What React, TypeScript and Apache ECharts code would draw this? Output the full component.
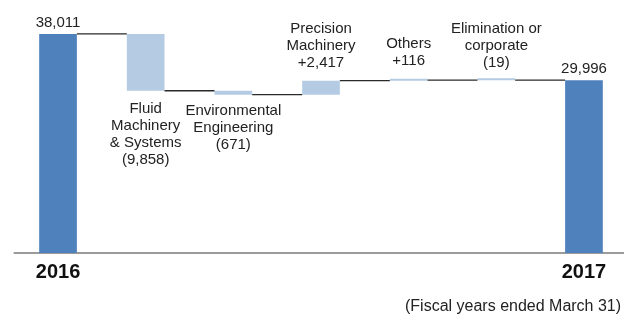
import React, { useEffect, useRef } from "react";
import * as echarts from "echarts";

const categories = [
  "2016",
  "Fluid Machinery & Systems",
  "Environmental Engineering",
  "Precision Machinery",
  "Others",
  "Elimination or corporate",
  "2017",
];
const startValue = 38011;
const endValue = 29996;
const changes = [-9858, -671, 2417, 116, -19];
const labelTexts = [
  "38,011",
  "Fluid\nMachinery\n& Systems\n(9,858)",
  "Environmental\nEngineering\n(671)",
  "Precision\nMachinery\n+2,417",
  "Others\n+116",
  "Elimination or\ncorporate\n(19)",
  "29,996",
];
const yearLabels = ["2016", "2017"];
const footnote = "(Fiscal years ended March 31)";

const DARK = "#4f81bd";
const LIGHT = "#b4cbe3";
const FONT = "'Liberation Sans', Arial, sans-serif";

export default function App() {
  const ref = useRef<HTMLDivElement>(null);
  useEffect(() => {
    if (!ref.current) return;
    const chart = echarts.init(ref.current, null, { renderer: "svg" });

    const bases: number[] = [0];
    const values: number[] = [startValue];
    const levels: number[][] = [[0, startValue]];
    let running = startValue;
    changes.forEach((c, i) => {
      const next = running + c;
      bases.push(Math.min(running, next));
      values.push(Math.abs(c));
      levels.push([i + 1, next]);
      running = next;
    });
    bases.push(0);
    values.push(endValue);

    const labelPos = (i: number) => {
      if (i === 1) return { position: "bottom", distance: 8 };
      if (i === 2) return { position: "bottom", distance: 6 };
      if (i === 3) return { position: "top", distance: 11 };
      if (i === 4) return { position: "top", distance: 11 };
      if (i === 5) return { position: "top", distance: 8 };
      return { position: "top", distance: 4 };
    };

    const visibleData = values.map((v, i) => {
      const isTotal = i === 0 || i === values.length - 1;
      return {
        value: v,
        itemStyle: { color: isTotal ? DARK : LIGHT },
        label: labelPos(i),
      };
    });

    chart.setOption({
      animation: false,
      grid: { left: 14.2, right: 2.2, top: 22.5, bottom: 61 },
      xAxis: {
        type: "category",
        data: categories,
        axisLine: { show: true, lineStyle: { color: "#7a7a7a", width: 1.5 } },
        axisTick: { show: false },
        axisLabel: {
          interval: 0,
          margin: 8,
          formatter: (v: string) => (yearLabels.includes(v) ? v : ""),
          fontFamily: FONT,
          fontWeight: "bold",
          fontSize: 20,
          color: "#111",
        },
      },
      yAxis: {
        type: "value",
        min: 0,
        max: 40000,
        show: false,
        splitLine: { show: false },
      },
      series: [
        {
          type: "bar",
          stack: "wf",
          data: bases,
          barWidth: "43%",
          itemStyle: { color: "transparent" },
          silent: true,
        },
        {
          type: "bar",
          stack: "wf",
          data: visibleData,
          barWidth: "43%",
          barMinHeight: 2,
          label: {
            show: true,
            formatter: (p: any) => labelTexts[p.dataIndex],
            fontFamily: FONT,
            fontSize: 15,
            lineHeight: 17,
            color: "#222",
            align: "center",
          },
        },
        {
          type: "custom",
          data: levels,
          encode: { x: 0, y: 1 },
          z: 5,
          renderItem: (params: any, api: any) => {
            const i = api.value(0);
            const lvl = api.value(1);
            const p = api.coord([i, lvl]);
            const band = api.size([1, 0])[0];
            const half = (band * 0.43) / 2;
            return {
              type: "line",
              shape: {
                x1: p[0] + half,
                y1: p[1],
                x2: p[0] + band - half,
                y2: p[1],
              },
              style: { stroke: "#2a2a2a", lineWidth: 1.3 },
            };
          },
        },
      ],
      graphic: [
        {
          type: "text",
          x: 405,
          y: 297,
          style: {
            text: footnote,
            fontFamily: FONT,
            fontSize: 16,
            fill: "#222",
            verticalAlign: "top",
          },
        },
      ],
    });
    return () => chart.dispose();
  }, []);
  return (
    <div
      style={{
        position: "fixed",
        left: 0,
        top: 0,
        width: 624,
        height: 314,
        overflow: "hidden",
      }}
    >
      <div ref={ref} style={{ width: 630, height: 314 }} />
    </div>
  );
}
